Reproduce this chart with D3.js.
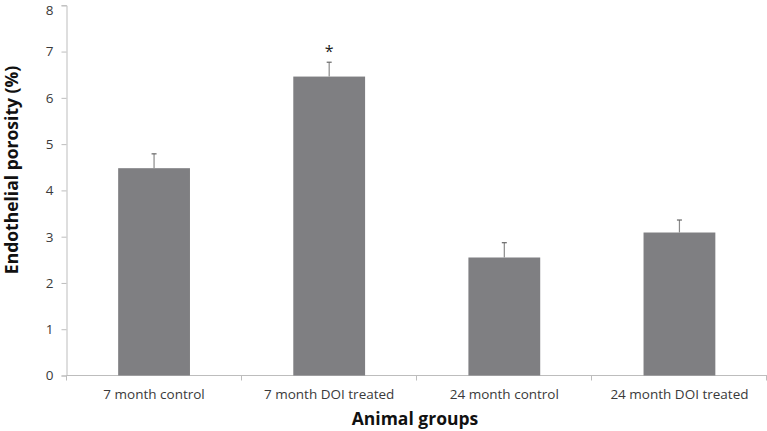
<!DOCTYPE html>
<html><head><meta charset="utf-8">
<script src="https://cdn.jsdelivr.net/npm/d3@7"></script>
<style>body{margin:0;background:#fff}</style>
</head><body>
<svg id="c" width="767" height="431"></svg>
<script>
const categories = ["7 month control","7 month DOI treated","24 month control","24 month DOI treated"];
const values = [4.48, 6.46, 2.55, 3.09];
const errors = [0.31, 0.31, 0.32, 0.27];
const significant = [false, true, false, false];
const yTicks = [0,1,2,3,4,5,6,7,8];

const svg = d3.select("#c");
const m = {left:66.5, right:767, top:5.3, bottom:375.5};
const x = d3.scaleBand().domain(categories).range([m.left, m.right]).paddingInner(0.59).paddingOuter(0.295);
const y = d3.scaleLinear().domain([0,8]).range([m.bottom, m.top]);
const font = "'Open Sans', 'Liberation Sans', sans-serif";

// y axis
const ya = svg.append("g").attr("transform",`translate(${m.left},0)`)
  .call(d3.axisLeft(y).tickValues(yTicks).tickSize(5).tickPadding(8).tickFormat(d3.format("d")));
ya.select(".domain").attr("stroke","#bdbdbd");
ya.selectAll(".tick line").attr("stroke","#bdbdbd");
ya.selectAll("text").attr("font-family",font).attr("font-size",13.5).attr("fill","#3a3a3a")
  .attr("dy", d => d === 8 ? "0.7em" : "0.32em");

// x axis
const xb = d3.scaleLinear().domain([0,4]).range([m.left, m.right-0.5]);
const xa = svg.append("g").attr("transform",`translate(0,${m.bottom})`);
xa.append("line").attr("x1",m.left).attr("x2",m.right).attr("stroke","#bdbdbd");
xa.selectAll("line.t").data(d3.range(5)).join("line").attr("class","t")
  .attr("x1",d=>xb(d)).attr("x2",d=>xb(d)).attr("y1",0).attr("y2",5).attr("stroke","#bdbdbd");
xa.selectAll("text").data(categories).join("text")
  .attr("x",d=>x(d)+x.bandwidth()/2).attr("y",23)
  .attr("text-anchor","middle").attr("font-family",font).attr("font-size",13.5).attr("fill","#3a3a3a")
  .text(d=>d);

// bars
svg.selectAll("rect.bar").data(categories).join("rect").attr("class","bar")
  .attr("x",d=>x(d)).attr("width",x.bandwidth())
  .attr("y",(d,i)=>y(values[i])).attr("height",(d,i)=>y(0)-y(values[i]))
  .attr("fill","#7f7f82");

// error bars
const eb = svg.selectAll("g.err").data(categories).join("g").attr("class","err");
eb.append("line").attr("x1",d=>x(d)+x.bandwidth()/2).attr("x2",d=>x(d)+x.bandwidth()/2)
  .attr("y1",(d,i)=>y(values[i])).attr("y2",(d,i)=>y(values[i]+errors[i]))
  .attr("stroke","#8a8a8a").attr("stroke-width",1.2);
eb.append("line").attr("x1",d=>x(d)+x.bandwidth()/2-2.5).attr("x2",d=>x(d)+x.bandwidth()/2+2.5)
  .attr("y1",(d,i)=>y(values[i]+errors[i])).attr("y2",(d,i)=>y(values[i]+errors[i]))
  .attr("stroke","#666").attr("stroke-width",1.2);

// significance
svg.selectAll("text.sig").data(categories.filter((d,i)=>significant[i])).join("text").attr("class","sig")
  .attr("x",d=>x(d)+x.bandwidth()/2).attr("y",d=>{const i=categories.indexOf(d);return y(values[i]+errors[i])-5;})
  .attr("text-anchor","middle").attr("font-family",font).attr("font-size",16).attr("fill","#222").text("*");

// titles
svg.append("text").attr("x",415).attr("y",425).attr("text-anchor","middle")
  .attr("font-family",font).attr("font-weight","bold").attr("font-size",17.5).attr("fill","#111").text("Animal groups");
svg.append("text").attr("transform",`translate(18,170) rotate(-90)`).attr("text-anchor","middle")
  .attr("font-family",font).attr("font-weight","bold").attr("font-size",17.5).attr("fill","#111").text("Endothelial porosity (%)");
</script>
</body></html>
